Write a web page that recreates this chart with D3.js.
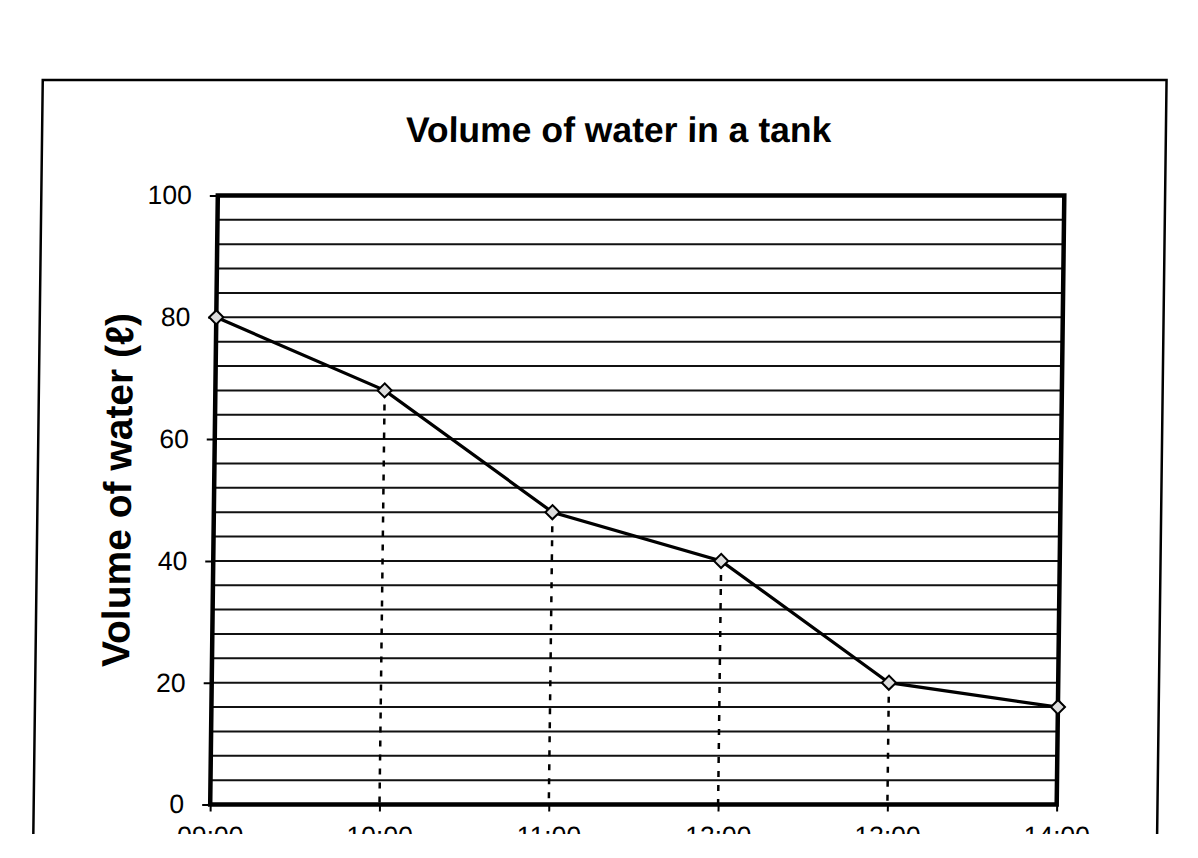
<!DOCTYPE html>
<html>
<head>
<meta charset="utf-8">
<script src="https://cdn.jsdelivr.net/npm/d3@7"></script>
<style>
  body { margin: 0; background: #fff; }
  svg { display: block; }
  text { font-family: "Liberation Sans", Arial, sans-serif; fill: #000; }
</style>
</head>
<body>
<svg></svg>
<script>
// data
const times = ["09:00", "10:00", "11:00", "12:00", "13:00", "14:00"];
const volumes = [80, 68, 48, 40, 20, 16];
const yTicks = [0, 20, 40, 60, 80, 100];
const gridValues = [4, 8, 12, 16, 20, 24, 28, 32, 36, 40, 44, 48, 52, 56, 60, 64, 68, 72, 76, 80, 84, 88, 92, 96];

const width = 1198;
const height = 858;
const plot = { left: 214, right: 1060.5, top: 195.5, bottom: 804.5 };

const svg = d3.select("svg")
  .attr("width", width)
  .attr("height", height);

// the scan is cut off just below the x labels
svg.append("clipPath")
  .attr("id", "page")
  .append("rect")
  .attr("x", 0)
  .attr("y", 0)
  .attr("width", width)
  .attr("height", 834);

const wrap = svg.append("g").attr("clip-path", "url(#page)");
// slight lean of the scanned page
const g = wrap.append("g").attr("transform", "translate(6.25,0) skewX(-0.716)");

//scales
const x = d3.scalePoint()
  .domain(times)
  .range([plot.left, plot.right])
  .padding(0);
const y = d3.scaleLinear()
  .domain([0, 100])
  .range([plot.bottom, plot.top]);

const points = times.map((t, i) => ({ time: t, value: volumes[i] }));

//outer frame
g.append("rect")
  .attr("x", 37.5)
  .attr("y", 80)
  .attr("width", 1123.8)
  .attr("height", 900)
  .style("fill", "none")
  .style("stroke", "#000")
  .style("stroke-width", 2.5);

//titles
g.append("text")
  .attr("x", 614)
  .attr("y", 142)
  .attr("text-anchor", "middle")
  .style("font-size", "35.5px")
  .style("font-weight", "bold")
  .text("Volume of water in a tank");

g.append("text")
  .attr("transform", "translate(131,490) rotate(-90)")
  .attr("text-anchor", "middle")
  .style("font-size", "39px")
  .style("font-weight", "bold")
  .text("Volume of water (ℓ)");

//gridlines
g.append("g")
  .selectAll("line")
  .data(gridValues)
  .enter()
  .append("line")
  .attr("x1", plot.left)
  .attr("x2", plot.right)
  .attr("y1", (d) => y(d))
  .attr("y2", (d) => y(d))
  .style("stroke", "#111")
  .style("stroke-width", 2);

//drop lines
g.append("g")
  .selectAll("line")
  .data(points)
  .enter()
  .append("line")
  .attr("x1", (d) => x(d.time))
  .attr("x2", (d) => x(d.time))
  .attr("y1", (d) => y(d.value))
  .attr("y2", y(0))
  .style("stroke", "#000")
  .style("stroke-width", 2.5)
  .style("stroke-dasharray", "6,8");

//axes
const yAxis = d3.axisLeft(y)
  .tickValues(yTicks)
  .tickSize(8)
  .tickPadding(18);
const xAxis = d3.axisBottom(x)
  .tickSize(7)
  .tickPadding(15);

const ya = g.append("g")
  .attr("transform", `translate(${plot.left},0)`)
  .call(yAxis);
const xa = g.append("g")
  .attr("transform", `translate(0,${plot.bottom})`)
  .call(xAxis);

[ya, xa].forEach((a) => {
  a.select(".domain").remove();
  a.selectAll("line").style("stroke", "#000").style("stroke-width", 2);
  a.selectAll("text")
    .style("font-size", "26.5px")
    .style("fill", "#000")
    .style("font-family", "'Liberation Sans', Arial, sans-serif");
});

//plot border
g.append("rect")
  .attr("x", plot.left)
  .attr("y", plot.top)
  .attr("width", plot.right - plot.left)
  .attr("height", plot.bottom - plot.top)
  .style("fill", "none")
  .style("stroke", "#000")
  .style("stroke-width", 4.5);

//series
const line = d3.line()
  .x((d) => x(d.time))
  .y((d) => y(d.value));

g.append("path")
  .datum(points)
  .attr("d", line)
  .style("fill", "none")
  .style("stroke", "#000")
  .style("stroke-width", 3.2);

g.append("g")
  .selectAll("path")
  .data(points)
  .enter()
  .append("path")
  .attr("d", d3.symbol(d3.symbolSquare, 100))
  .attr("transform", (d) => `translate(${x(d.time)},${y(d.value)}) rotate(45)`)
  .style("fill", "#ddd")
  .style("stroke", "#000")
  .style("stroke-width", 2);
</script>
</body>
</html>
